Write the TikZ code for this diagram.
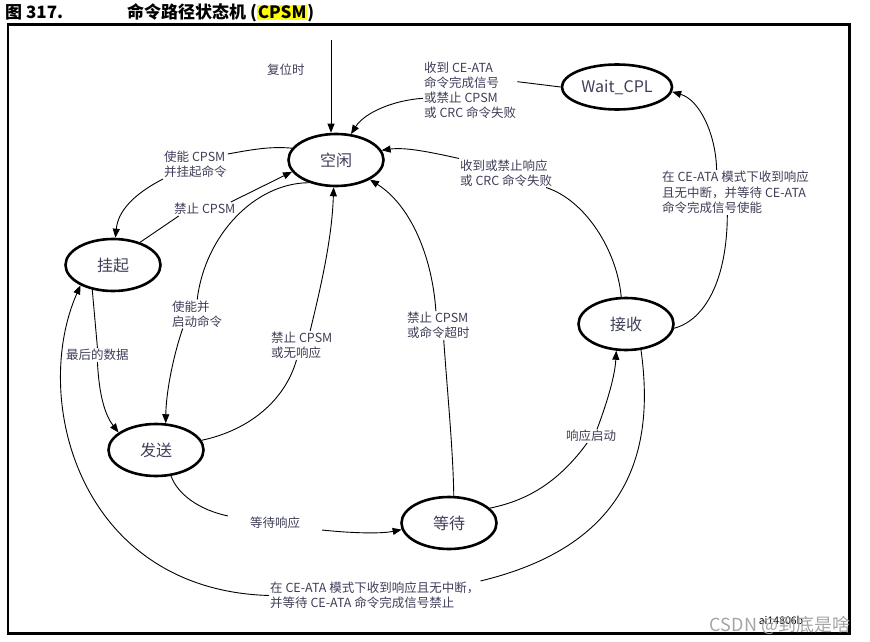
\documentclass[tikz,border=0pt]{standalone}
\usepackage{fontspec}
\setmainfont{Noto Sans CJK SC}
\usetikzlibrary{arrows.meta,shapes.geometric}
\definecolor{ink}{RGB}{62,62,88}
\definecolor{hilite}{RGB}{255,255,0}
\definecolor{wmgray}{RGB}{165,165,165}
\newcommand\condfont{\fontsize{12.5}{15}\selectfont}
\newcommand\statefont{\fontsize{16}{19}\selectfont}
\tikzset{
  state/.style={ellipse, draw=black, line width=2.6pt, minimum width=95pt,
                minimum height=52pt, font=\statefont, text=ink},
  cond/.style={align=left, font=\condfont, text=ink, inner sep=1pt},
  flow/.style={-{Triangle[length=9pt,width=7pt]}, line width=.9pt},
  wire/.style={line width=.9pt}
}
\begin{document}
\begin{tikzpicture}[x=1pt, y=-1pt]
  \useasboundingbox (0,0) rectangle (870,642);
  \node[anchor=base west, inner sep=0pt, font=\fontsize{17}{20}\selectfont\bfseries] (fig) at (5,19) {图 317.};
  \node[anchor=base west, inner sep=0pt, font=\fontsize{17}{20}\selectfont\bfseries] (ttl) at (127,19)
    {命令路径状态机 ({\setlength\fboxsep{1pt}\colorbox{hilite}{CPSM}})};
  \draw[line width=2.5pt] (8,24.5) rectangle (849.5,633.5);

  \node[state] (idle) at (336,160) {空闲};
  \node[state, minimum height=45pt] (wcpl) at (617,87) {Wait\_CPL};
  \node[state] (susp) at (113,265) {挂起};
  \node[state] (send) at (156,450) {发送};
  \node[state] (recv) at (626,324) {接收};
  \node[state] (wt) at (449,523) {等待};

  \node[cond, anchor=west] (lblReset) at (266,70) {复位时};
  \node[cond, anchor=west] (lblCpl) at (423,90) {收到 CE-ATA\\命令完成信号\\或禁止 CPSM\\或 CRC 命令失败};
  \node[cond, anchor=west] (lblRsp) at (459,173) {收到或禁止响应\\或 CRC 命令失败};
  \node[cond, anchor=west] (lblEn) at (163,164.5) {使能 CPSM\\并挂起命令};
  \node[cond, anchor=west] (lblDis) at (173,209) {禁止 CPSM};
  \node[cond, anchor=west] (lblStart) at (171,314) {使能并\\启动命令};
  \node[cond, anchor=west] (lblNoRsp) at (270,345.5) {禁止 CPSM\\或无响应};
  \node[cond, anchor=west] (lblTimeout) at (406,325.5) {禁止 CPSM\\或命令超时};
  \node[cond, anchor=west] (lblLast) at (65,355) {最后的数据};
  \node[cond, inner xsep=22pt] (lblWaitRsp) at (275,523) {等待响应};
  \node[cond, anchor=west] (lblRspStart) at (565,436) {响应启动};
  \node[cond, anchor=west, font=\fontsize{12.5}{15.5}\selectfont] (lblCeEn) at (661,192.5)
    {在 CE-ATA 模式下收到响应\\且无中断，并等待 CE-ATA\\命令完成信号使能};
  \node[cond, anchor=west] (lblCeDis) at (269,595.5)
    {在 CE-ATA 模式下收到响应且无中断，\\并等待 CE-ATA 命令完成信号禁止};

  \coordinate (rst) at (331,40);
  \draw[flow] (rst) -- (rst |- idle.north);
  \draw[wire] (wcpl.west) -- (lblCpl.10);
  \draw[flow] (lblCpl.190) .. controls (395,100) and (365,112) .. (idle.60);
  \draw[flow] (lblRsp.north west) .. controls (430,152) and (405,147) .. (idle.12);
  \draw[wire] (lblRsp.-20) .. controls (585,200) and (617,250) .. (recv.100);
  \draw[wire] (idle.165) .. controls (270,146) and (250,150) .. (lblEn.18);
  \draw[flow] (lblEn.south west) .. controls (132,195) and (118,212) .. (susp.85);
  \draw[wire] (susp.40) -- (lblDis.195);
  \draw[flow] (lblDis.15) -- (idle.195);
  \draw[wire] (idle.220) .. controls (255,183) and (205,235) .. (lblStart.north);
  \draw[flow] (lblStart.225) .. controls (172,360) and (166,395) .. (send.70);
  \draw[wire] (send.12) .. controls (250,430) and (285,400) .. (lblNoRsp.250);
  \draw[flow] (lblNoRsp.60) .. controls (320,290) and (332,240) .. (idle.265);
  \draw[wire] (wt.80) .. controls (453,450) and (448,400) .. (lblTimeout.290);
  \draw[flow] (lblTimeout.100) .. controls (432,255) and (410,205) .. (idle.-30);
  \draw[wire] (susp.230) -- (lblLast.north);
  \draw[flow] (lblLast.south) .. controls (99,395) and (105,415) .. (send.155);
  \draw[wire] (send.300) .. controls (178,495) and (200,510) .. (lblWaitRsp.north west);
  \draw[flow] (lblWaitRsp.south east) .. controls (350,533) and (380,534) .. (wt.188);
  \draw[wire] (wt.20) .. controls (530,500) and (560,480) .. (lblRspStart.240);
  \draw[flow] (lblRspStart.50) .. controls (608,400) and (615,375) .. (recv.250);
  \draw[wire] (recv.-5) .. controls (705,320) and (727,280) .. (lblCeEn.250);
  \draw[flow] (lblCeEn.130) .. controls (716,135) and (700,100) .. (wcpl.-5);
  \draw[wire] (recv.-60) .. controls (655,450) and (630,545) .. (lblCeDis.north east);
  \draw[flow] (lblCeDis.west) .. controls (80,590) and (30,400) .. (susp.212);

  \node[font=\fontsize{10.5}{12}\selectfont, inner sep=0pt] (docid) at (781,620) {ai14806b};
  \node[font=\fontsize{18}{20}\selectfont, text=wmgray, inner sep=0pt] (wmark) at (780,625) {CSDN @到底是啥};
\end{tikzpicture}
\end{document}
